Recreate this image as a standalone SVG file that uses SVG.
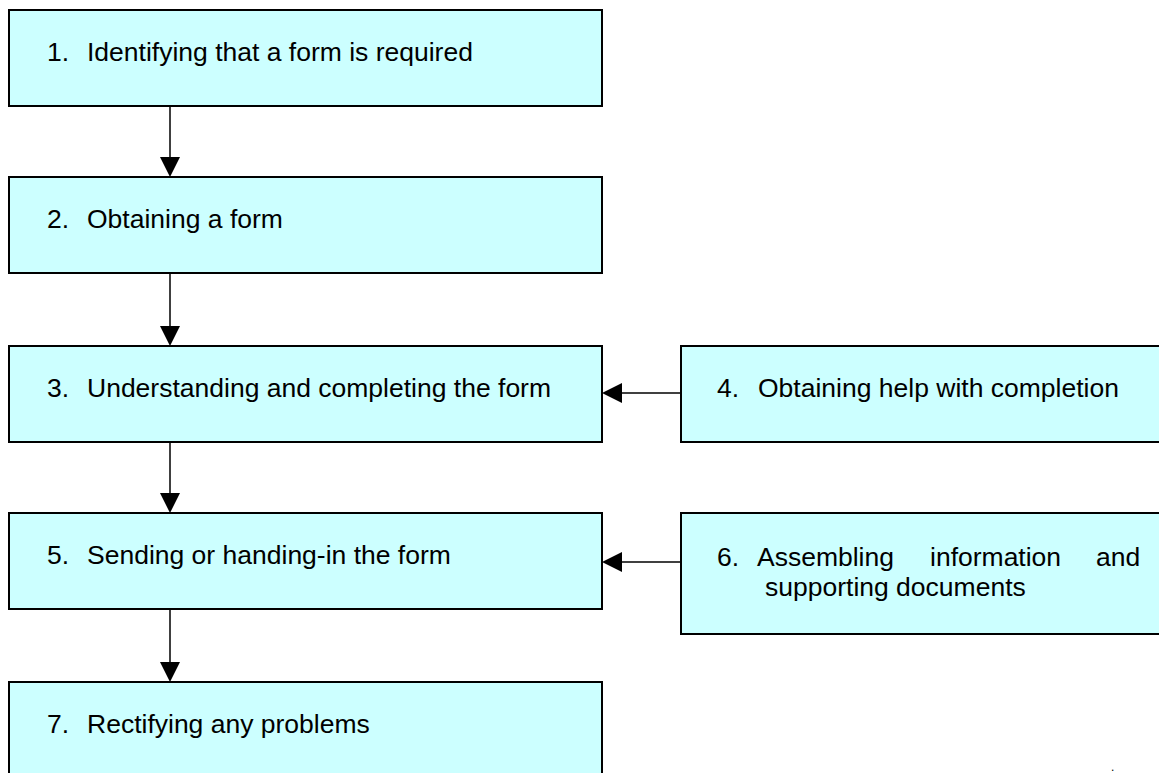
<svg xmlns="http://www.w3.org/2000/svg" width="1159" height="773" viewBox="0 0 1159 773">
<style>
.box{fill:#CCFFFF;stroke:#000;stroke-width:2}
.t{font-family:"Liberation Sans",Arial,sans-serif;font-size:26.5px;fill:#000}
.c{stroke:#000;stroke-width:1.5;fill:none}
.ah{fill:#000}
</style>
<rect width="1159" height="773" fill="#fff"/>
<g id="n1"><rect class="box" x="9" y="10" width="593" height="96"/><text class="t" y="61"><tspan x="47">1.</tspan><tspan x="87">Identifying that a form is required</tspan></text></g>
<g id="n2"><rect class="box" x="9" y="177" width="593" height="96"/><text class="t" y="228"><tspan x="47">2.</tspan><tspan x="87">Obtaining a form</tspan></text></g>
<g id="n3"><rect class="box" x="9" y="346" width="593" height="96"/><text class="t" y="397"><tspan x="47">3.</tspan><tspan x="87">Understanding and completing the form</tspan></text></g>
<g id="n4"><rect class="box" x="681" y="346" width="490" height="96"/><text class="t" y="397"><tspan x="717">4.</tspan><tspan x="758">Obtaining help with completion</tspan></text></g>
<g id="n5"><rect class="box" x="9" y="513" width="593" height="96"/><text class="t" y="564"><tspan x="47">5.</tspan><tspan x="87">Sending or handing-in the form</tspan></text></g>
<g id="n6"><rect class="box" x="681" y="513" width="490" height="121"/><text class="t" y="566"><tspan x="717">6.</tspan><tspan x="757">Assembling</tspan><tspan x="930">information</tspan><tspan x="1096">and</tspan></text><text class="t" x="765" y="596">supporting documents</text></g>
<g id="n7"><rect class="box" x="9" y="682" width="593" height="100"/><text class="t" y="733"><tspan x="47">7.</tspan><tspan x="87">Rectifying any problems</tspan></text></g>
<g id="connectors">
<line class="c" x1="170" y1="106" x2="170" y2="158"/><polygon class="ah" points="160,157 180,157 170,177"/>
<line class="c" x1="170" y1="273" x2="170" y2="327"/><polygon class="ah" points="160,326 180,326 170,346"/>
<line class="c" x1="170" y1="442" x2="170" y2="494"/><polygon class="ah" points="160,493 180,493 170,513"/>
<line class="c" x1="170" y1="609" x2="170" y2="663"/><polygon class="ah" points="160,662 180,662 170,682"/>
<line class="c" x1="681" y1="393" x2="621" y2="393"/><polygon class="ah" points="622,383 622,403 602,393"/>
<line class="c" x1="681" y1="562" x2="621" y2="562"/><polygon class="ah" points="622,552 622,572 602,562"/>
</g>
<text class="t" x="1111" y="771" style="font-size:12px">.</text>
</svg>
